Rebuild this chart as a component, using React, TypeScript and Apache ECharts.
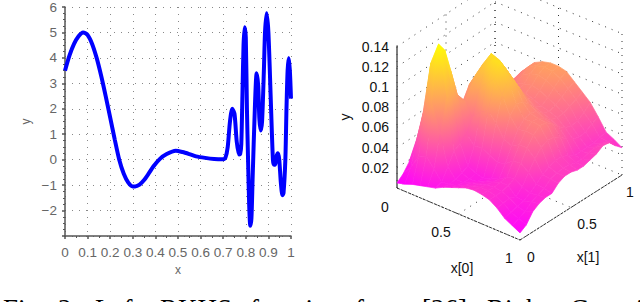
import React, { useEffect, useRef } from "react";
import * as echarts from "echarts";

const curveX = [0,.02,.04,.06,.08,.1,.12,.14,.16,.18,.2,.22,.24,.26,.28,.3,.31,.33,.35,.37,.39,.42,.45,.49,.52,.55,.58,.62,.66,.7,.71,.72,.73,.74,.75,.76,.77,.775,.78,.785,.79,.795,.8,.805,.81,.815,.82,.825,.83,.84,.848,.855,.86,.866,.872,.88,.885,.892,.9,.91,.92,.925,.93,.935,.942,.948,.955,.962,.967,.975,.98,.985,.99,.995,1];
const curveY = [3.5,4.1,4.55,4.85,5,4.9,4.55,4,3.3,2.5,1.65,.8,0,-.55,-.9,-1.05,-1.05,-.98,-.8,-.55,-.28,.03,.22,.35,.3,.22,.13,.07,.03,.02,.08,.5,1.5,2,1.8,.7,.2,.22,.6,2.5,4.5,5.2,4.8,2,0,-1.8,-2.6,-2.3,-.8,2,3.4,2.9,1.6,1.15,1.5,3.5,5,5.75,5,2.5,0,-.2,-.2,.1,.25,0,-.9,-1.4,-1.3,0,2,3.5,4,3.5,2.4];

// Surface heights in thousandths; rows follow x[0] = i/16, columns x[1] = j/16.
const surfaceMilli = [
  [5,10,18,25,26,30,25,15,9,8,9,10,12,14,16,17,18],
  [7,20,44,65,70,70,45,20,15,12,12,14,18,21,24,26,27],
  [10,33,76,118,120,110,90,65,40,30,25,25,28,30,35,38,39],
  [12,37,84,140,130,105,78,68,80,85,85,80,70,60,55,53,53],
  [14,28,59,89,86,80,75,85,95,100,95,80,70,65,65,67,67],
  [16,18,29,41,44,50,62,85,103,113,100,75,65,68,72,76,76],
  [20,19,20,22,25,41,71,95,115,110,98,80,68,70,76,80,80],
  [23,21,20,19,21,42,75,102,115,103,90,75,68,72,78,82,82],
  [26,24,23,20,19,38,66,90,100,95,82,70,65,70,76,81,82],
  [29,27,25,23,22,34,53,72,80,78,72,65,62,66,72,77,80],
  [30,29,27,26,25,36,50,62,68,70,68,62,60,62,66,70,73],
  [29,29,28,29,30,42,54,64,69,68,64,59,57,57,60,63,66],
  [27,27,27,29,32,43,54,63,68,67,62,55,50,48,49,53,59],
  [22,23,24,21,27,37,47,54,57,56,52,46,42,40,41,45,48],
  [15,17,19,20,24,29,34,38,40,40,37,33,33,33,33,35,36],
  [11,14,17,22,25,28,33,35,36,35,33,33,35,36,36,34,32],
  [7,11,20,24,26,26,32,35,35,33,33,35,37,41,40,33,27],
];
const heightTicks = [0.02, 0.04, 0.06, 0.08, 0.1, 0.12, 0.14];
const planeTicks = [0, 0.5, 1];
const captionWords = ["Fig.", "2:", "Left:", "RKHS", "function", "from", "[26].", "Right:", "Gaussian"];
const captionStarts = [3, 58, 95, 160, 250, 355, 422, 487, 570];

const CORNER_L = [397, 188], CORNER_F = [520, 240], CORNER_R = [622, 175], CORNER_B = [495, 123];
const PX_PER_UNIT = 1010;
const project = (a: number, b: number, z: number) => [
  (1-a)*(1-b)*CORNER_L[0] + a*(1-b)*CORNER_F[0] + a*b*CORNER_R[0] + (1-a)*b*CORNER_B[0],
  (1-a)*(1-b)*CORNER_L[1] + a*(1-b)*CORNER_F[1] + a*b*CORNER_R[1] + (1-a)*b*CORNER_B[1] - z*PX_PER_UNIT,
];
const Z_MIN = 0.005, Z_MAX = 0.13;
const spring = (t: number) => {
  const g = Math.round(255 * Math.max(0, Math.min(1, t)));
  return `rgb(255,${g},${255 - g})`;
};

const N = surfaceMilli.length - 1;
const quads: number[][] = [];
for (let i = 0; i < N; i++) for (let j = N - 1; j >= 0; j--) quads.push([i, j]);

const renderQuad = (params: any, api: any) => {
  const [i, j] = quads[params.dataIndex];
  const corners = [[i, j], [i + 1, j], [i + 1, j + 1], [i, j + 1]];
  const pts = corners.map(([p, q]) => api.coord(project(p / N, q / N, surfaceMilli[p][q] / 1000)));
  const vals = corners.map(([p, q]) => (surfaceMilli[p][q] / 1000 - Z_MIN) / (Z_MAX - Z_MIN));
  const mx = pts.reduce((s: number, p: number[]) => s + p[0], 0) / 4;
  const my = pts.reduce((s: number, p: number[]) => s + p[1], 0) / 4;
  const mc = vals.reduce((s, v) => s + v, 0) / 4;
  let sxx = 0, sxy = 0, syy = 0, sxc = 0, syc = 0;
  pts.forEach((p: number[], k: number) => {
    const dx = p[0] - mx, dy = p[1] - my, dc = vals[k] - mc;
    sxx += dx * dx; sxy += dx * dy; syy += dy * dy; sxc += dx * dc; syc += dy * dc;
  });
  const det = sxx * syy - sxy * sxy;
  let fill: any = spring(mc);
  if (Math.abs(det) > 1e-6) {
    const gx = (syy * sxc - sxy * syc) / det;
    const gy = (sxx * syc - sxy * sxc) / det;
    const g2 = gx * gx + gy * gy;
    if (g2 > 1e-9) {
      const t1 = Math.min(...vals) - mc, t2 = Math.max(...vals) - mc;
      fill = {
        type: "linear", global: true,
        x: mx + (t1 * gx) / g2, y: my + (t1 * gy) / g2,
        x2: mx + (t2 * gx) / g2, y2: my + (t2 * gy) / g2,
        colorStops: [
          { offset: 0, color: spring(mc + t1) },
          { offset: 1, color: spring(mc + t2) },
        ],
      };
    }
  }
  return {
    type: "polygon", silent: true,
    shape: { points: pts },
    style: { fill, stroke: fill, lineWidth: 0.7 },
  };
};

const TOP = 0.14;
const guideLines: number[][][] = [];
heightTicks.forEach((z) => {
  guideLines.push([[0, 0, z], [0, 1, z]]);
  guideLines.push([[0, 1, z], [1, 1, z]]);
});
planeTicks.forEach((t) => {
  guideLines.push([[0, t, 0], [0, t, TOP]]);
  guideLines.push([[t, 1, 0], [t, 1, TOP]]);
  guideLines.push([[t, 0, 0], [t, 1, 0]]);
  guideLines.push([[0, t, 0], [1, t, 0]]);
});
const renderGuide = (params: any, api: any) => {
  const [p, q] = guideLines[params.dataIndex];
  const s = api.coord(project(p[0], p[1], p[2]));
  const e = api.coord(project(q[0], q[1], q[2]));
  return {
    type: "line", silent: true,
    shape: { x1: s[0], y1: s[1], x2: e[0], y2: e[1] },
    style: { stroke: "#333", lineWidth: 1, lineDash: [1, 6] },
  };
};

const edgeLines: number[][][] = [
  [[0, 0, 0], [1, 0, 0]],
  [[1, 0, 0], [1, 1, 0]],
];
const renderEdge = (params: any, api: any) => {
  const [p, q] = edgeLines[params.dataIndex];
  const s = api.coord(project(p[0], p[1], p[2]));
  const e = api.coord(project(q[0], q[1], q[2]));
  return {
    type: "line", silent: true,
    shape: { x1: s[0], y1: s[1], x2: e[0], y2: e[1] },
    style: { stroke: "#333", lineWidth: 1, lineDash: [3, 1] },
  };
};
const renderHeightAxis = (params: any, api: any) => {
  const s = api.coord(project(0, 0, 0));
  const e = api.coord(project(0, 0, TOP + 0.001));
  return {
    type: "line", silent: true,
    shape: { x1: s[0], y1: s[1], x2: e[0], y2: e[1] },
    style: { stroke: "#555", lineWidth: 1.5 },
  };
};

const LABEL_FONT = "Liberation Sans";
const text3d = (x: number, y: number, text: string, extra: any = {}) => ({
  type: "text", x, y, silent: true,
  style: { text, fill: "#111", fontFamily: LABEL_FONT, fontSize: 14, align: "center", verticalAlign: "middle", ...extra },
});

export default function App() {
  const ref = useRef<HTMLDivElement>(null);
  useEffect(() => {
    document.body.style.margin = "0";
    const chart = echarts.init(ref.current!, undefined, { renderer: "svg" });
    const axisStyle = { color: "#555", width: 1.5 };
    const labelStyle = { color: "#666", fontFamily: LABEL_FONT, fontSize: 13.5 };
    chart.setOption({
      animation: false,
      backgroundColor: "#fff",
      grid: [
        { left: 65, width: 226, top: 2, height: 234 },
        { left: 0, top: 0, right: 0, bottom: 0 },
      ],
      xAxis: [
        {
          gridIndex: 0, type: "value", min: 0, max: 1, interval: 0.1,
          axisLine: { lineStyle: axisStyle, onZero: false },
          axisTick: { show: true, length: 3, lineStyle: { color: "#555", width: 1.5 } },
          minorTick: { show: true, splitNumber: 2, length: 2, lineStyle: { color: "#555" } },
          axisLabel: { ...labelStyle, margin: 9, hideOverlap: false, formatter: (v: number) => `${+v.toFixed(1)}` },
          splitLine: { show: true, lineStyle: { color: "#888", type: [1, 6], width: 1 } },
          name: "x", nameLocation: "middle", nameGap: 26,
          nameTextStyle: { color: "#666", fontFamily: LABEL_FONT, fontSize: 12 },
        },
        { gridIndex: 1, type: "value", min: 0, max: 640, show: false },
      ],
      yAxis: [
        {
          gridIndex: 0, type: "value", min: -3, max: 6, interval: 1,
          axisLine: { lineStyle: axisStyle, onZero: false },
          axisTick: { show: true, length: 3, lineStyle: { color: "#555", width: 1.5 } },
          minorTick: { show: true, splitNumber: 4, length: 2, lineStyle: { color: "#555" } },
          axisLabel: {
            ...labelStyle, margin: 8,
            formatter: (v: number) => (v === -3 ? "" : `${v}`.replace("-", "\u2212")),
          },
          splitLine: { show: true, lineStyle: { color: "#888", type: [1, 6], width: 1 } },
          name: "y", nameLocation: "middle", nameGap: 33,
          nameTextStyle: { color: "#666", fontFamily: LABEL_FONT, fontSize: 12 },
        },
        { gridIndex: 1, type: "value", min: 0, max: 302, inverse: true, show: false },
      ],
      series: [
        {
          type: "line", xAxisIndex: 0, yAxisIndex: 0, showSymbol: false, symbol: "none", smooth: 0.25,
          data: curveX.map((x, i) => [x, curveY[i]]),
          lineStyle: { color: "#0000ff", width: 4 }, clip: false, silent: true,
        },
        { type: "custom", xAxisIndex: 1, yAxisIndex: 1, data: guideLines.map((_, i) => [i]), renderItem: renderGuide, clip: false, silent: true, z: 2 },
        { type: "custom", xAxisIndex: 1, yAxisIndex: 1, data: edgeLines.map((_, i) => [i]), renderItem: renderEdge, clip: false, silent: true, z: 2 },
        { type: "custom", xAxisIndex: 1, yAxisIndex: 1, data: [[0]], renderItem: renderHeightAxis, clip: false, silent: true, z: 2 },
        { type: "custom", xAxisIndex: 1, yAxisIndex: 1, data: quads.map((_, i) => [i]), renderItem: renderQuad, clip: false, silent: true, z: 3 },
      ],
      graphic: [
        ...heightTicks.map((z) => {
          const p = project(0, 0, z);
          return text3d(389, p[1], `${z}`, { align: "right" });
        }),
        { ...text3d(345, 117, "y"), rotation: Math.PI / 2 },
        text3d(385, 207, "0"),
        text3d(441, 232, "0.5"),
        text3d(509, 258, "1"),
        text3d(462, 268, "x[0]"),
        text3d(531, 257, "0"),
        text3d(587, 224, "0.5"),
        text3d(630, 192, "1"),
        text3d(588, 257, "x[1]"),
        ...captionWords.map((word, i) => ({
          type: "text", x: captionStarts[i], y: 295, silent: true,
          style: { text: word, fill: "#000", fontFamily: "Liberation Serif", fontSize: 27 },
        })),
      ],
    });
    return () => chart.dispose();
  }, []);
  return <div ref={ref} style={{ width: 640, height: 302 }} />;
}
